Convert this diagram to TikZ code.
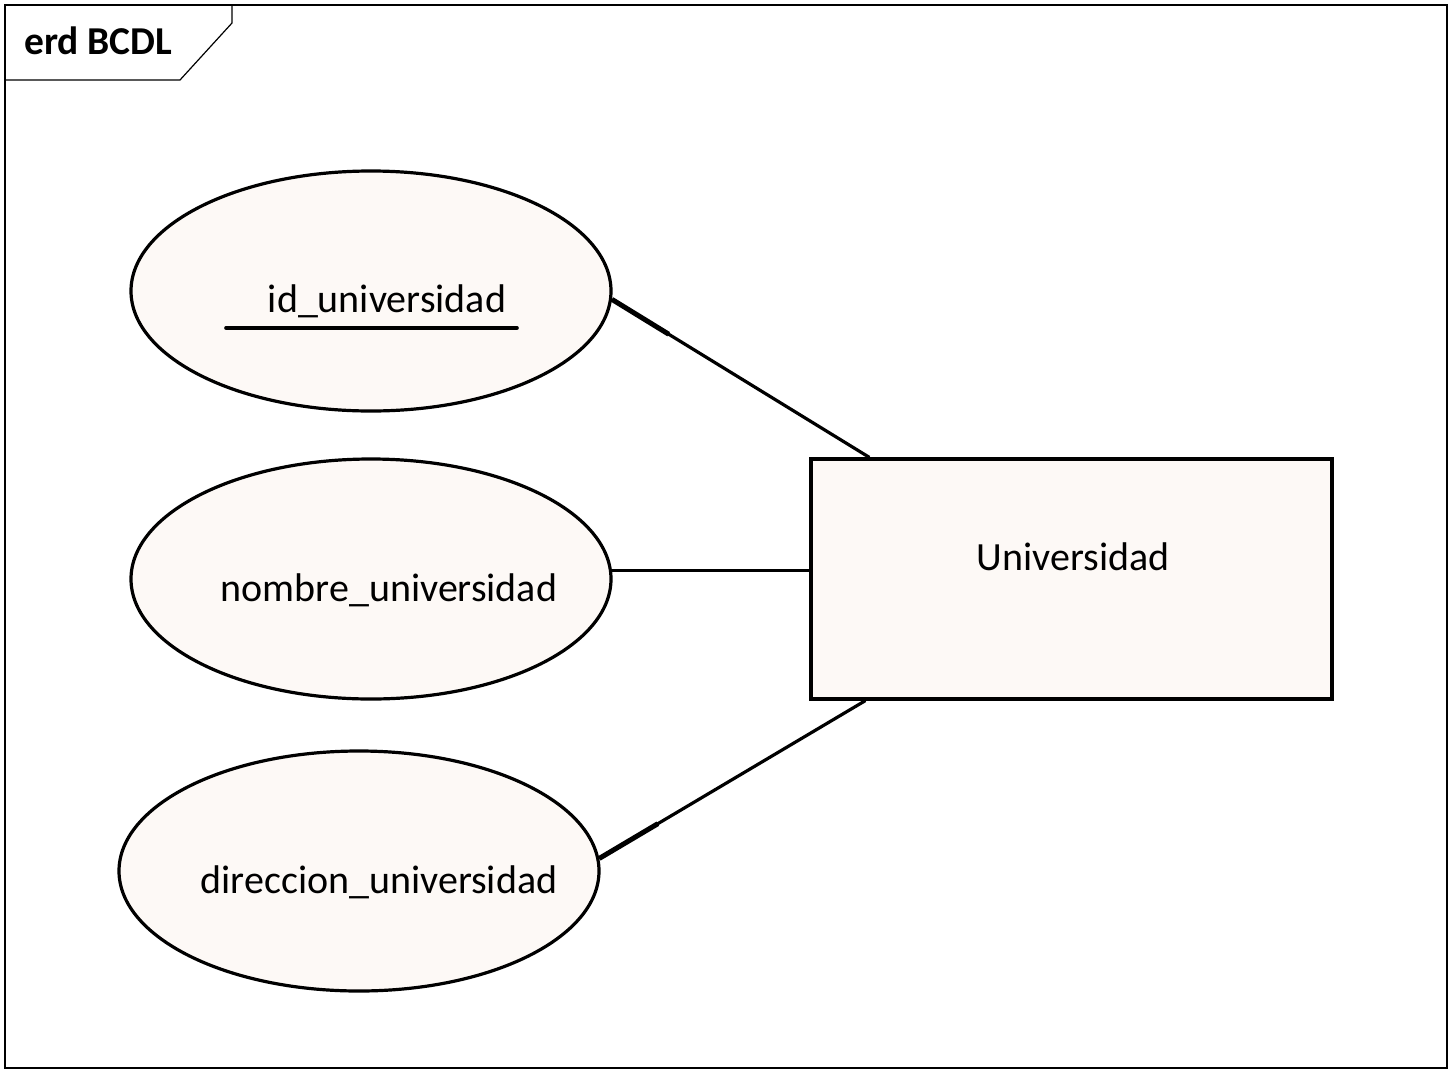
\documentclass[tikz,border=0pt]{standalone}
\usepackage{fontspec}
\setmainfont{Carlito}
\usetikzlibrary{shapes.geometric,calc}
\definecolor{cream}{HTML}{FDF9F6}
\tikzset{
  attr/.style={ellipse, draw=black, line width=3.2pt, fill=cream, minimum width=480pt, minimum height=240pt, inner sep=0pt},
  entity/.style={rectangle, draw=black, line width=3.2pt, fill=cream, minimum width=521pt, minimum height=240pt, inner sep=0pt},
  lbl/.style={font=\fontsize{40}{46}\selectfont, inner sep=0pt, anchor=center},
  conn/.style={line width=3.2pt},
  frame/.style={line width=1.6pt}
}
\begin{document}
\begin{tikzpicture}[x=1pt,y=-1pt]
\useasboundingbox[fill=white] (0,0) rectangle (1452,1072);
\draw[frame] (5,5) rectangle (1447,1068);
\draw[line width=1.2pt] (232,5) -- (232,23) -- (180,80) -- (5,80);
\node[font=\bfseries\fontsize{39.5}{46}\selectfont, anchor=west, inner sep=0pt] (title) at (24,41) {erd BCDL};

\node[attr] (e1) at (371,291) {};
\node[attr] (e2) at (371,579) {};
\node[attr] (e3) at (359,871) {};
\node[entity] (u) at (1071.5,579) {};

\node[lbl] (t1) at (387,301) {id\_universidad};
\draw[line width=3.6pt, line cap=round] (226,328) -- (517,328);
\node[lbl] (t2) at (389,590) {nombre\_universidad};
\node[lbl] (t3) at (379,882) {direccion\_universidad};
\node[lbl] (tu) at (1073,557) {Universidad};

\coordinate (p1) at ($(u.north west)+(60,0)$);
\coordinate (p3) at ($(u.south west)+(56,0)$);
\draw[conn] (e1.-2) -- (p1);
\draw[line width=5pt] (e1.-2) -- ($(e1.-2)!0.22!(p1)$);
\draw[conn] (e2.2) -- (e2.2 -| u.west);
\draw[conn] (e3.3) -- (p3);
\draw[line width=5pt] (e3.3) -- ($(e3.3)!0.22!(p3)$);
\end{tikzpicture}
\end{document}
